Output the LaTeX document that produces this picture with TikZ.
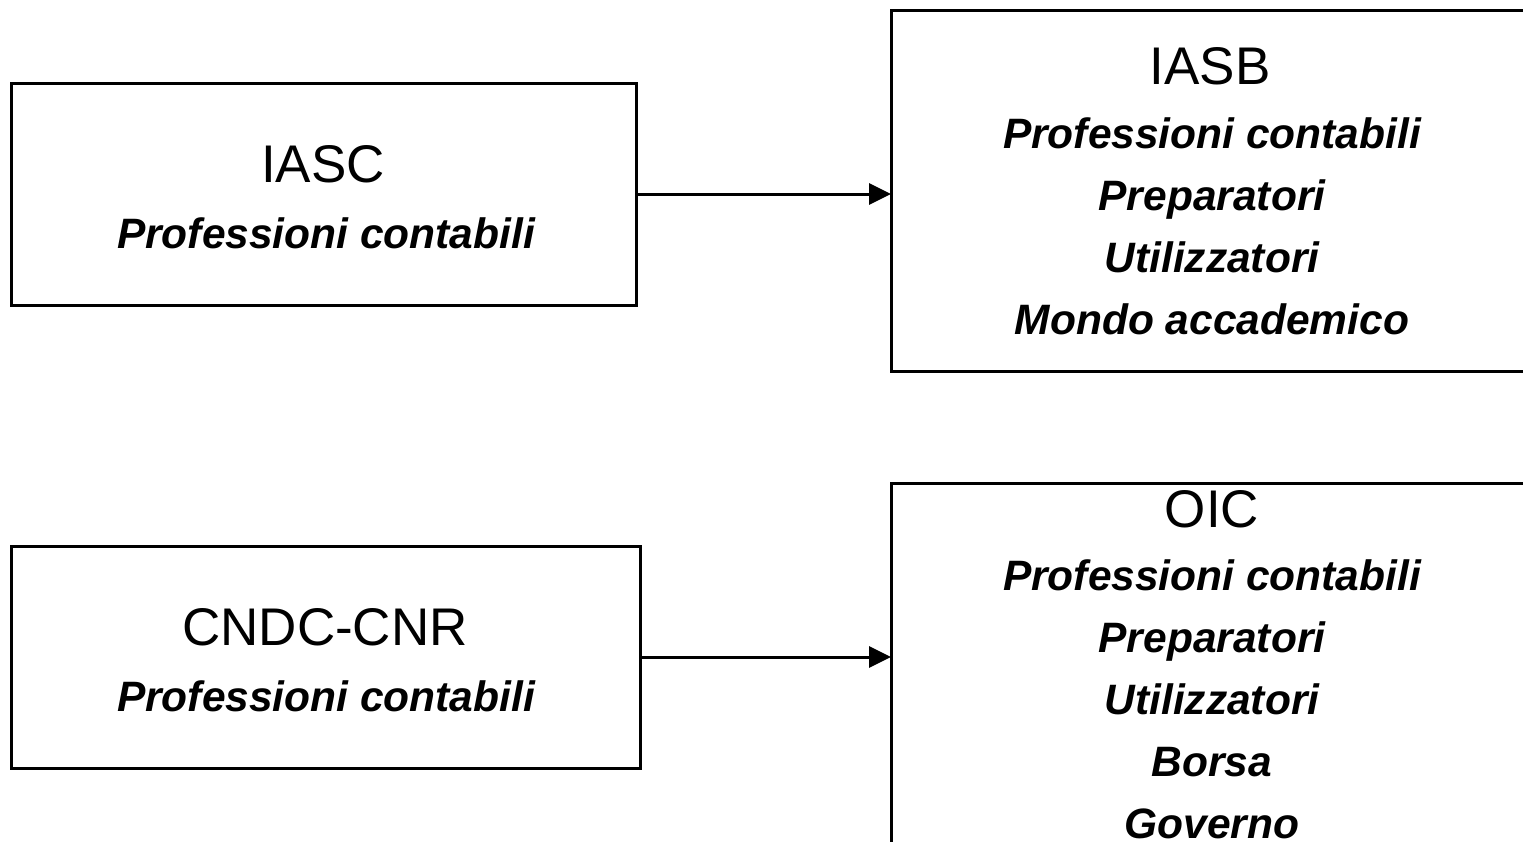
\documentclass[tikz,border=0pt]{standalone}
\usepackage{fontspec}
\setmainfont{Liberation Sans}
\usetikzlibrary{arrows.meta}
\tikzset{
  box/.style={draw=black, line width=3pt, rectangle, inner sep=0pt, outer sep=0pt},
  title/.style={anchor=base, inner sep=0pt, font=\fontsize{53}{60}\selectfont},
  item/.style={anchor=base, inner sep=0pt, font=\fontsize{42.5}{50}\selectfont\bfseries\itshape},
  conn/.style={line width=3pt, -{Triangle[length=22pt,width=21pt]}}
}
\begin{document}
\begin{tikzpicture}[x=1pt,y=-1pt]
\clip (0,0) rectangle (1523,841);
\fill[white] (0,0) rectangle (1523,841);
% boxes
\node[box, minimum width=625pt, minimum height=222pt] (iasc) at (323.5,194) {};
\node[box, minimum width=642pt, minimum height=361pt] (iasb) at (1212,190.5) {};
\node[box, minimum width=629pt, minimum height=222pt] (cndc) at (325.5,657) {};
\node[box, minimum width=642pt, minimum height=417pt] (oic) at (1212,691.5) {};
% texts
\node[title] (t1) at (323,182) {IASC};
\node[item]  (t1a) at (326,248) {Professioni contabili};
\node[title] (t2) at (1210,84) {IASB};
\node[item]  (t2a) at (1212,148) {Professioni contabili};
\node[item]  (t2b) at (1212,210) {Preparatori};
\node[item]  (t2c) at (1212,272) {Utilizzatori};
\node[item]  (t2d) at (1212,334) {Mondo accademico};
\node[title] (t3) at (325,645) {CNDC-CNR};
\node[item]  (t3a) at (326,711) {Professioni contabili};
\node[title] (t4) at (1212,527) {OIC};
\node[item]  (t4a) at (1212,590) {Professioni contabili};
\node[item]  (t4b) at (1212,652) {Preparatori};
\node[item]  (t4c) at (1212,714) {Utilizzatori};
\node[item]  (t4d) at (1212,776) {Borsa};
\node[item]  (t4e) at (1212,838) {Governo};
% connectors
\draw[conn] (iasc.east) -- (iasb.west |- iasc.east);
\draw[conn] (cndc.east) -- (oic.west |- cndc.east);
\end{tikzpicture}
\end{document}
